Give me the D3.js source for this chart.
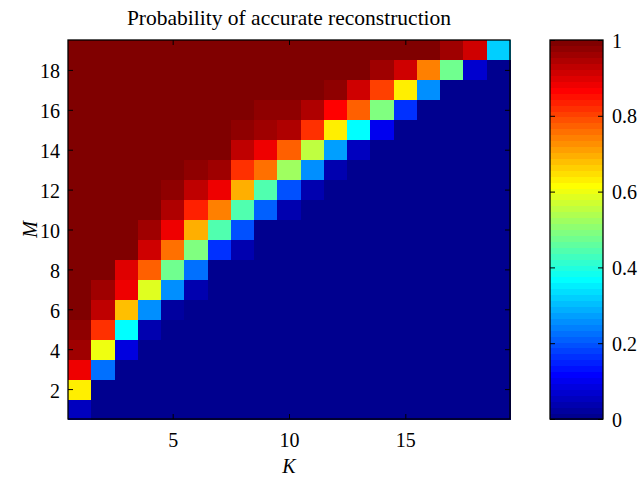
<!DOCTYPE html>
<html>
<head>
<meta charset="utf-8">
<script src="https://cdn.jsdelivr.net/npm/d3@7"></script>
<style>
  html, body { margin: 0; padding: 0; background: #fff; }
  svg { display: block; }
  text { font-family: "Liberation Serif", "Times New Roman", "DejaVu Serif", serif; fill: #000; }
</style>
</head>
<body>
<svg id="chart" width="640" height="477"></svg>
<script>
// ---- data ----
const kValues = d3.range(1, 20);            // K = 1..19 (columns)
const mValues = d3.range(1, 20);            // M = 1..19 (rows)
const xTickValues = [5, 10, 15];
const yTickValues = [2, 4, 6, 8, 10, 12, 14, 16, 18];
const cbTickValues = [0, 0.2, 0.4, 0.6, 0.8, 1];
const cbTickLabels = ["0", "0.2", "0.4", "0.6", "0.8", "1"];
const titleText = "Probability of accurate reconstruction";
const xLabel = "K";
const yLabel = "M";

// probability[m-1][k-1] : rows M = 1..19, columns K = 1..19
const probability = [
  [0.055,0,0,0,0,0,0,0,0,0,0,0,0,0,0,0,0,0,0],
  [0.64,0,0,0,0,0,0,0,0,0,0,0,0,0,0,0,0,0,0],
  [0.885,0.22,0,0,0,0,0,0,0,0,0,0,0,0,0,0,0,0,0],
  [0.96,0.595,0.09,0,0,0,0,0,0,0,0,0,0,0,0,0,0,0,0],
  [0.975,0.825,0.36,0.04,0,0,0,0,0,0,0,0,0,0,0,0,0,0,0],
  [1,0.93,0.675,0.26,0.02,0,0,0,0,0,0,0,0,0,0,0,0,0,0],
  [1,0.96,0.885,0.58,0.25,0.045,0,0,0,0,0,0,0,0,0,0,0,0,0],
  [1,1,0.9,0.78,0.47,0.22,0.01,0,0,0,0,0,0,0,0,0,0,0,0],
  [1,1,1,0.915,0.75,0.485,0.165,0.04,0,0,0,0,0,0,0,0,0,0,0],
  [1,1,1,0.96,0.885,0.69,0.45,0.19,0,0,0,0,0,0,0,0,0,0,0],
  [1,1,1,1,0.95,0.84,0.735,0.44,0.21,0.045,0.01,0,0,0,0,0,0,0,0],
  [1,1,1,1,0.975,0.93,0.885,0.70,0.4375,0.2,0.04,0,0,0,0,0,0,0,0],
  [1,1,1,1,1,0.975,0.96,0.825,0.75,0.53,0.265,0.04,0,0,0,0,0,0,0],
  [1,1,1,1,1,1,1,0.93,0.885,0.775,0.56,0.28,0.06,0,0,0,0,0,0],
  [1,1,1,1,1,1,1,0.975,0.96,0.95,0.82,0.625,0.36,0.1,0,0,0,0,0],
  [1,1,1,1,1,1,1,1,0.975,0.975,0.95,0.87,0.77,0.485,0.17,0,0,0,0],
  [1,1,1,1,1,1,1,1,1,1,1,0.975,0.915,0.81,0.64,0.25,0.01,0,0],
  [1,1,1,1,1,1,1,1,1,1,1,1,1,0.96,0.915,0.74,0.475,0.075,0],
  [1,1,1,1,1,1,1,1,1,1,1,1,1,1,1,1,0.96,0.915,0.325]
];

// ---- MATLAB jet(64) colormap ----
function jetMap(m) {
  const n = Math.ceil(m / 4);
  const u = [];
  for (let i = 1; i <= n; i++) u.push(i / n);
  for (let i = 1; i < n; i++) u.push(1);
  for (let i = n; i >= 1; i--) u.push(i / n);
  const off = Math.ceil(n / 2) - (m % 4 === 1 ? 1 : 0);
  const J = d3.range(m).map(() => [0, 0, 0]);
  u.forEach((val, j) => {
    const g = off + j + 1, r = g + n, b = g - n;
    if (r >= 1 && r <= m) J[r - 1][0] = val;
    if (g >= 1 && g <= m) J[g - 1][1] = val;
    if (b >= 1 && b <= m) J[b - 1][2] = val;
  });
  return J.map(c => d3.rgb(c[0] * 255, c[1] * 255, c[2] * 255).formatHex());
}
const jet = jetMap(64);
function colorOf(v) {
  const i = Math.max(0, Math.min(63, Math.floor(v * 64)));
  return jet[i];
}

// ---- layout ----
const svg = d3.select("#chart");
const plot = { left: 68, right: 510, top: 40, bottom: 419 };
const cb = { left: 550, right: 603, top: 40, bottom: 419 };
const fontSize = 20;
const titleSize = 21.5;

const x = d3.scaleLinear().domain([0.5, 19.5]).range([plot.left, plot.right]);
const y = d3.scaleLinear().domain([0.5, 19.5]).range([plot.bottom, plot.top]);

// cells
const cells = [];
probability.forEach((row, mi) => row.forEach((v, ki) => cells.push({ k: kValues[ki], m: mValues[mi], v })));
svg.append("g").selectAll("rect").data(cells).join("rect")
  .attr("x", d => x(d.k - 0.5))
  .attr("y", d => y(d.m + 0.5))
  .attr("width", d => x(d.k + 0.5) - x(d.k - 0.5) + 0.5)
  .attr("height", d => y(d.m - 0.5) - y(d.m + 0.5) + 0.5)
  .attr("fill", d => colorOf(d.v))
  .attr("shape-rendering", "crispEdges");

// axes
const tickLen = 5;
function styleAxis(g) {
  g.attr("font-family", null);
  g.select(".domain").remove();
  g.selectAll(".tick line").attr("stroke", "#000").attr("stroke-width", 1);
  g.selectAll("text").style("font-size", fontSize + "px").attr("fill", "#000");
}
svg.append("g").attr("transform", `translate(0,${plot.bottom})`)
  .call(d3.axisBottom(x).tickValues(xTickValues).tickSize(-tickLen).tickPadding(13.5).tickFormat(d3.format("d")))
  .call(styleAxis);
svg.append("g").attr("transform", `translate(0,${plot.top})`)
  .call(d3.axisTop(x).tickValues(xTickValues).tickSize(-tickLen).tickFormat(""))
  .call(styleAxis);
svg.append("g").attr("transform", `translate(${plot.left},0)`)
  .call(d3.axisLeft(y).tickValues(yTickValues).tickSize(-tickLen).tickPadding(8).tickFormat(d3.format("d")))
  .call(styleAxis)
  .selectAll("text").attr("dy", "0.4em");
svg.append("g").attr("transform", `translate(${plot.right},0)`)
  .call(d3.axisRight(y).tickValues(yTickValues).tickSize(-tickLen).tickFormat(""))
  .call(styleAxis);

// plot frame
svg.append("rect")
  .attr("x", plot.left).attr("y", plot.top)
  .attr("width", plot.right - plot.left).attr("height", plot.bottom - plot.top)
  .attr("fill", "none").attr("stroke", "#000").attr("stroke-width", 1.3);

// colorbar
const cy = d3.scaleLinear().domain([0, 1]).range([cb.bottom, cb.top]);
svg.append("g").selectAll("rect").data(jet).join("rect")
  .attr("x", cb.left)
  .attr("y", (c, i) => cy((i + 1) / 64))
  .attr("width", cb.right - cb.left)
  .attr("height", (c, i) => cy(i / 64) - cy((i + 1) / 64) + 0.5)
  .attr("fill", c => c)
  .attr("shape-rendering", "crispEdges");
svg.append("g").attr("transform", `translate(${cb.right},0)`)
  .call(d3.axisRight(cy).tickValues(cbTickValues).tickSize(-tickLen).tickPadding(9)
    .tickFormat((d, i) => cbTickLabels[i]))
  .call(styleAxis)
  .selectAll("text").attr("dy", "0.35em");
svg.append("g").attr("transform", `translate(${cb.left},0)`)
  .call(d3.axisLeft(cy).tickValues(cbTickValues).tickSize(-tickLen).tickFormat(""))
  .call(styleAxis);
svg.append("rect")
  .attr("x", cb.left).attr("y", cb.top)
  .attr("width", cb.right - cb.left).attr("height", cb.bottom - cb.top)
  .attr("fill", "none").attr("stroke", "#000").attr("stroke-width", 1.3);

// labels
const cx = (plot.left + plot.right) / 2;
svg.append("text").attr("x", cx).attr("y", 25)
  .attr("text-anchor", "middle").style("font-size", titleSize + "px").text(titleText);
svg.append("text").attr("x", cx).attr("y", 473)
  .attr("text-anchor", "middle").style("font-size", fontSize + "px").style("font-style", "italic").text(xLabel);
svg.append("text")
  .attr("transform", `translate(37,${(plot.top + plot.bottom) / 2}) rotate(-90)`)
  .attr("text-anchor", "middle").style("font-size", fontSize + "px").style("font-style", "italic").text(yLabel);
</script>
</body>
</html>
